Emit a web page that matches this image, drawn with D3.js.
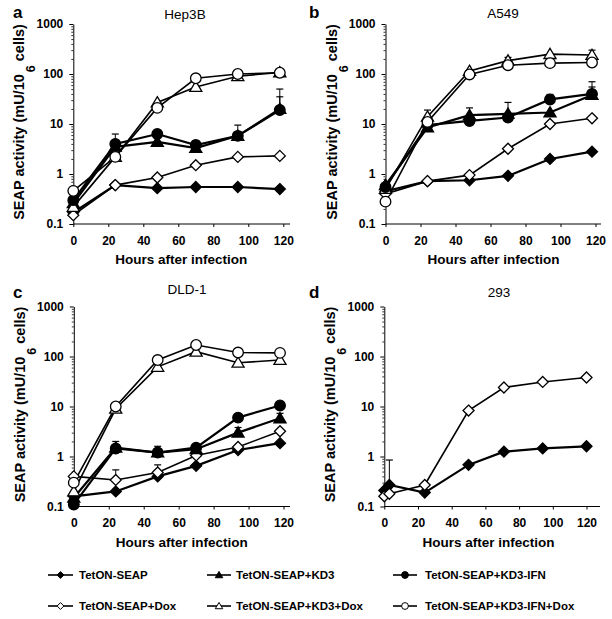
<!DOCTYPE html>
<html><head><meta charset="utf-8">
<script src="https://cdn.jsdelivr.net/npm/d3@7"></script>
<style>body{margin:0;background:#fff} svg{display:block;font-family:"Liberation Sans",Arial,Helvetica,sans-serif}</style>
</head><body><svg id="chart" width="612" height="619"></svg>
<script>
// ---------- data ----------
const seriesNames = ["TetON-SEAP","TetON-SEAP+KD3","TetON-SEAP+KD3-IFN","TetON-SEAP+Dox","TetON-SEAP+KD3+Dox","TetON-SEAP+KD3-IFN+Dox"];
const seriesShapes = ["diamond","triangle","circle","diamond","triangle","circle"];
const seriesFilled = [true,true,true,false,false,false];
const xTicks = [0,20,40,60,80,100,120];
const yTicks = [0.1,1,10,100,1000];
const panelTitles = ["Hep3B","A549","DLD-1","293"];
const panelLetters = ["a","b","c","d"];

const hoursHep3B = [0,24,48,70,94,118];
const valuesHep3B = [
  [0.17,0.6,0.52,0.55,0.55,0.5],
  [0.26,3.5,4.4,3.3,5.8,20],
  [0.3,4,6.3,3.8,5.8,19],
  [0.15,0.6,0.85,1.5,2.2,2.3],
  [0.22,2.2,27,55,90,108],
  [0.46,2.2,21,82,100,106]
];
const errHep3B = [[2,1,6.3],[2,3,4.6],[2,4,9.5],[2,5,50],[1,5,35]];

const hoursA549 = [0,24,48,70,94,118];
const valuesA549 = [
  [0.45,0.72,0.75,0.92,2,2.8],
  [0.6,8.5,15,16,17,38],
  [0.55,9.5,11.5,13.5,31,40],
  [0.4,0.72,0.95,3.2,10,13],
  [0.5,14,115,185,250,240],
  [0.28,11,98,150,165,170]
];
const errA549 = [[1,1,19],[1,2,21],[1,3,27],[2,4,39],[2,5,70],[1,5,55],[4,3,215],[4,5,300]];

const hoursDLD1 = [0,24,48,70,94,118];
const valuesDLD1 = [
  [0.16,0.2,0.4,0.65,1.35,1.85],
  [0.15,1.5,1.2,1.4,3,5.8],
  [0.11,1.45,1.2,1.5,6,10.5],
  [0.4,0.34,0.48,1.05,1.55,3.2],
  [0.2,9,62,125,75,85],
  [0.3,10,85,170,120,118]
];
const errDLD1 = [[1,1,2],[1,2,1.6],[1,4,3.8],[1,5,7.3],[3,1,0.54],[3,2,0.68]];

const hours293 = [0,3,24,50,71,94,120];
const values293 = [
  [0.21,0.27,0.19,0.68,1.25,1.45,1.6],
  null,null,
  [0.16,0.18,0.27,8.3,24,31,38],
  null,null
];
const err293 = [[0,1,0.85]];

// ---------- layout ----------
const panels = [
  {hours:hoursHep3B, values:valuesHep3B, err:errHep3B, x0:73.3, x120:283.3, xEnd:290, yTop:24, yBot:224, title:[185,19], letter:[13,18]},
  {hours:hoursA549, values:valuesA549, err:errA549, x0:385.5, x120:595.5, xEnd:601, yTop:24, yBot:224, title:[503,18], letter:[309,18]},
  {hours:hoursDLD1, values:valuesDLD1, err:errDLD1, x0:73.8, x120:283.5, xEnd:290, yTop:306.5, yBot:506.5, title:[187,294], letter:[13,298]},
  {hours:hours293, values:values293, err:err293, x0:384.3, x120:586.5, xEnd:600, yTop:306.5, yBot:506.5, title:[499,297], letter:[309,298]}
];

const svg = d3.select("#chart");

function shapePath(shape, r){
  if(shape==="diamond") return `M0,${-r}L${r},0L0,${r}L${-r},0Z`;
  if(shape==="triangle") return `M0,${-r*1.05}L${r*1.1},${r*0.8}L${-r*1.1},${r*0.8}Z`;
  return d3.symbol(d3.symbolCircle, Math.PI*r*r)();
}

panels.forEach((p,pi)=>{
  const x = d3.scaleLinear().domain([0,120]).range([p.x0,p.x120]);
  const y = d3.scaleLog().domain([0.1,1000]).range([p.yBot,p.yTop]);
  const g = svg.append("g");

  // x axis
  const xa = g.append("g").attr("transform",`translate(0,${p.yBot})`)
    .call(d3.axisBottom(x).tickValues(xTicks).tickSize(3).tickPadding(9).tickSizeOuter(0));
  xa.select(".domain").remove();
  xa.append("line").attr("x1",p.x0).attr("x2",p.xEnd).attr("stroke","#000").attr("stroke-width",1);
  xa.selectAll("text").attr("font-size",12).attr("font-weight","bold").attr("fill","#000")
    .attr("font-family","Liberation Sans, Arial, sans-serif");
  xa.selectAll(".tick line").attr("stroke","#000");

  // y axis minor ticks
  const minor = [];
  for(let e=-1;e<3;e++) for(let k=2;k<10;k++) minor.push(k*Math.pow(10,e));
  const ym = g.append("g").attr("transform",`translate(${p.x0},0)`)
    .call(d3.axisLeft(y).tickValues(minor).tickSize(2).tickFormat(""));
  ym.select(".domain").remove();
  ym.selectAll(".tick line").attr("stroke","#000").attr("stroke-width",0.8);
  const ya = g.append("g").attr("transform",`translate(${p.x0},0)`)
    .call(d3.axisLeft(y).tickValues(yTicks).tickSize(4).tickPadding(6).tickSizeOuter(0).tickFormat(d=>String(d)));
  ya.select(".domain").attr("stroke","#000");
  ya.selectAll(".tick line").attr("stroke","#000");
  ya.selectAll("text").attr("font-size",12).attr("font-weight","bold").attr("fill","#000")
    .attr("font-family","Liberation Sans, Arial, sans-serif");

  // axis titles
  g.append("text").attr("x",(p.x0+p.x120)/2+3).attr("y",p.yBot+40)
    .attr("text-anchor","middle").attr("font-size",13.5).attr("font-weight","bold")
    .text("Hours after infection");
  const yt = g.append("text").attr("transform",`translate(${p.x0-49},${(p.yTop+p.yBot)/2-2}) rotate(-90)`)
    .attr("text-anchor","middle").attr("font-size",14.5).attr("font-weight","bold");
  yt.append("tspan").text("SEAP activity (mU/10");
  yt.append("tspan").attr("dx",2).attr("dy",11).attr("font-size",12.5).text("6");
  yt.append("tspan").attr("dy",-11).text(" cells)");

  // titles
  g.append("text").attr("x",p.title[0]).attr("y",p.title[1]).attr("text-anchor","middle")
    .attr("font-size",13.5).text(panelTitles[pi]);
  g.append("text").attr("x",p.letter[0]).attr("y",p.letter[1])
    .attr("font-size",17).attr("font-weight","bold").text(panelLetters[pi]);

  // error bars
  p.err.forEach(([s,i,hi])=>{
    const cx = x(p.hours[i]), y1 = y(p.values[s][i]), y2 = y(hi);
    g.append("line").attr("x1",cx).attr("x2",cx).attr("y1",y1).attr("y2",y2).attr("stroke","#000").attr("stroke-width",1);
    g.append("line").attr("x1",cx-3.5).attr("x2",cx+3.5).attr("y1",y2).attr("y2",y2).attr("stroke","#000").attr("stroke-width",1.2);
  });

  const line = d3.line().x(d=>x(d[0])).y(d=>y(d[1]));
  const order = [0,3,1,4,2,5];
  order.forEach(s=>{
    const vals = p.values[s]; if(!vals) return;
    const pts = vals.map((v,i)=>[p.hours[i],v]);
    g.append("path").attr("d",line(pts)).attr("fill","none").attr("stroke","#000")
      .attr("stroke-width", seriesFilled[s]?2.2:1.6);
  });
  order.forEach(s=>{
    const vals = p.values[s]; if(!vals) return;
    g.selectAll(null).data(vals.map((v,i)=>[p.hours[i],v])).enter().append("path")
      .attr("transform",d=>`translate(${x(d[0])},${y(d[1])})`)
      .attr("d",shapePath(seriesShapes[s], seriesShapes[s]==="circle"?5.3:5.5))
      .attr("fill",seriesFilled[s]?"#000":"#fff").attr("stroke","#000").attr("stroke-width",1.3);
  });
});

// legend
const legCols = [[48,73,79],[207,231,236],[393,417,425]];
const legRows = [575,606];
seriesNames.forEach((name,s)=>{
  const c = legCols[s%3], r = legRows[Math.floor(s/3)];
  const g = svg.append("g");
  g.append("line").attr("x1",c[0]).attr("x2",c[1]).attr("y1",r).attr("y2",r).attr("stroke","#000").attr("stroke-width",1.6);
  g.append("path").attr("transform",`translate(${(c[0]+c[1])/2},${r})`)
    .attr("d",shapePath(seriesShapes[s],3.4))
    .attr("fill",seriesFilled[s]?"#000":"#fff").attr("stroke","#000").attr("stroke-width",1);
  g.append("text").attr("x",c[2]).attr("y",r+4).attr("font-size",11.5).attr("font-weight","bold").text(name);
});
</script></body></html>
